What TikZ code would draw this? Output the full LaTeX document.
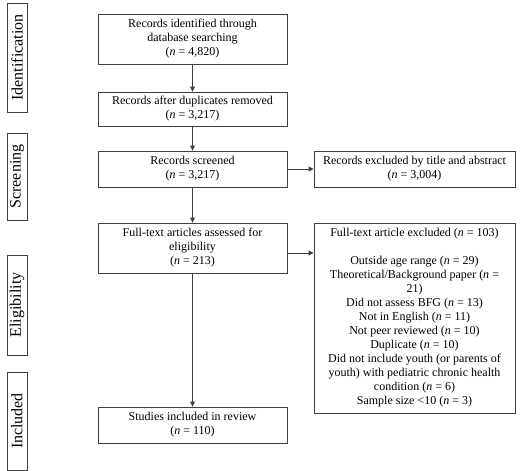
\documentclass[tikz,border=0pt]{standalone}
\usepackage{fontspec}
\setmainfont{Liberation Serif}
\usetikzlibrary{arrows.meta}
\newcommand{\nn}{\textit{n}}
\begin{document}
\begin{tikzpicture}[x=1pt,y=-1pt,
  box/.style={draw=black!75,line width=0.9pt,rectangle,inner sep=0pt,align=center,
    font=\fontsize{12}{14}\selectfont,text=black},
  side/.style={draw=black!75,line width=0.9pt,rectangle,inner sep=0pt,rotate=90,minimum height=20pt,
    font=\fontsize{16}{18}\selectfont},
  arr/.style={draw=black!75,line width=0.9pt,-{Triangle[length=5pt,width=5pt]}}]
\useasboundingbox (0,0) rectangle (520,471);
% side labels
\node[side,minimum width=109pt] (s1) at (17,57.5) {Identification};
\node[side,minimum width=87pt] (s2) at (17,176.5) {Screening};
\node[side,minimum width=100pt] (s3) at (17,305) {Eligibility};
\node[side,minimum width=98pt] (s4) at (17,421) {Included};
% main column
\node[box,minimum width=189pt,minimum height=50pt] (b1) at (192.5,39) {Records identified through\\database searching\\(\nn{} = 4,820)};
\node[box,minimum width=189pt,minimum height=34pt] (b2) at (192.5,109) {Records after duplicates removed\\(\nn{} = 3,217)};
\node[box,minimum width=189pt,minimum height=36pt] (b3) at (192.5,169) {Records screened\\(\nn{} = 3,217)};
\node[box,minimum width=189pt,minimum height=50pt] (b4) at (192.5,248) {Full-text articles assessed for\\eligibility\\(\nn{} = 213)};
\node[box,minimum width=189pt,minimum height=36pt] (b5) at (192.5,425) {Studies included in review\\(\nn{} = 110)};
% exclusions
\node[box,minimum width=201pt,minimum height=36pt] (e1) at (414.5,169) {Records excluded by title and abstract\\(\nn{} = 3,004)};
\node[box,minimum width=201pt,minimum height=190pt] (e2) at (414.5,318) {Full-text article excluded (\nn{} = 103)\\[14pt]
Outside age range (\nn{} = 29)\\
Theoretical/Background paper (\nn{} =\\
21)\\
Did not assess BFG (\nn{} = 13)\\
Not in English (\nn{} = 11)\\
Not peer reviewed (\nn{} = 10)\\
Duplicate (\nn{} = 10)\\
Did not include youth (or parents of\\
youth) with pediatric chronic health\\
condition (\nn{} = 6)\\
Sample size <10 (\nn{} = 3)};
% arrows
\draw[arr] (b1) -- (b2);
\draw[arr] (b2) -- (b3);
\draw[arr] (b3) -- (b4);
\draw[arr] (b4) -- (b5);
\draw[arr] (b3) -- (e1);
\coordinate (c4) at ([yshift=-5pt]b4.east);
\draw[arr] (c4) -- (c4 -| e2.west);
\end{tikzpicture}
\end{document}
